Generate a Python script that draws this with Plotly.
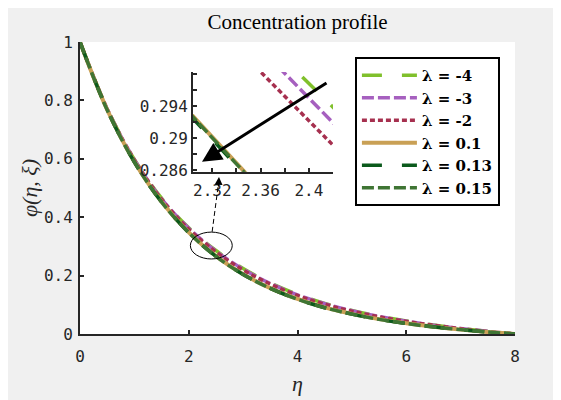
import plotly.graph_objects as go

# ---------------- data ----------------
eta = [0.0, 0.5, 1.0, 1.5, 2.0, 2.5, 3.0, 3.5, 4.0, 4.5, 5.0, 5.5, 6.0, 6.5, 7.0, 7.5, 8.0]
labels = ["λ = -4", "λ = -3", "λ = -2", "λ = 0.1", "λ = 0.13", "λ = 0.15"]
phi_m4 = [1.000, 0.772, 0.598, 0.465, 0.364, 0.286, 0.224, 0.175, 0.136, 0.105, 0.081, 0.061, 0.045, 0.031, 0.019, 0.009, 0.000]
phi_m3 = [1.000, 0.771, 0.597, 0.463, 0.362, 0.284, 0.222, 0.173, 0.134, 0.104, 0.080, 0.060, 0.044, 0.030, 0.019, 0.009, 0.000]
phi_m2 = [1.000, 0.770, 0.595, 0.461, 0.359, 0.281, 0.219, 0.171, 0.132, 0.102, 0.078, 0.059, 0.043, 0.030, 0.018, 0.008, 0.000]
phi_p10 = [1.000, 0.768, 0.590, 0.453, 0.348, 0.267, 0.205, 0.157, 0.120, 0.091, 0.069, 0.051, 0.037, 0.025, 0.015, 0.007, 0.000]
phi_p13 = [1.000, 0.768, 0.589, 0.452, 0.347, 0.266, 0.204, 0.156, 0.119, 0.090, 0.068, 0.050, 0.036, 0.025, 0.015, 0.007, 0.000]
phi_p15 = [1.000, 0.767, 0.589, 0.452, 0.347, 0.266, 0.204, 0.156, 0.119, 0.090, 0.068, 0.050, 0.036, 0.024, 0.015, 0.007, 0.000]

# zoomed (inset) values
eta_zoom = [2.30, 2.43]
zoom_m4 = [0.3117, 0.2924]
zoom_m3 = [0.3105, 0.2904]
zoom_m2 = [0.3075, 0.2876]
zoom_p10 = [0.2934, 0.2722]
zoom_p13 = [0.2931, 0.2719]
zoom_p15 = [0.2933, 0.2721]

inset_xticks = [2.32, 2.34, 2.36, 2.38, 2.40]
inset_xtext = ["2.32", "", "2.36", "", "2.4"]
inset_yticks = [0.286, 0.288, 0.290, 0.292, 0.294, 0.296, 0.298]
inset_ytext = ["0.286", "", "0.29", "", "0.294", "", ""]

main_series = [phi_m4, phi_m3, phi_m2, phi_p10, phi_p13, phi_p15]
zoom_series = [zoom_m4, zoom_m3, zoom_m2, zoom_p10, zoom_p13, zoom_p15]

colors = ["#80c02c", "#a660bf", "#a6304f", "#c9a055", "#0b5a1c", "#3f7534"]
dashes = ["20px,20px", "12px,4px", "5px,3px", "solid", "20px,20px", "12px,4px"]
widths = [3.5, 3.5, 3.5, 4, 3.5, 3.5]

AX = "#262626"
fig = go.Figure()

for lab, ys, c, d, w in zip(labels, main_series, colors, dashes, widths):
    fig.add_trace(go.Scatter(x=eta, y=ys, mode="lines", name=lab,
                             line=dict(color=c, dash=d, width=w, shape="spline"),
                             xaxis="x", yaxis="y"))

for lab, ys, c, d, w in zip(labels, zoom_series, colors, dashes, widths):
    fig.add_trace(go.Scatter(x=eta_zoom, y=ys, mode="lines", name=lab, showlegend=False,
                             line=dict(color=c, dash=d, width=w),
                             xaxis="x2", yaxis="y2"))

tickfont = dict(family="DejaVu Sans Mono", size=16, color=AX)

fig.update_layout(
    width=561, height=400,
    paper_bgcolor="#f0f0f0", plot_bgcolor="white",
    margin=dict(l=72, r=54, t=34, b=73.5),
    title=dict(text="Concentration profile", x=0.5, xref="paper", xanchor="center",
               y=0.965, yanchor="middle",
               font=dict(family="Liberation Serif", size=21, color="black")),
    xaxis=dict(domain=[0, 1], range=[0, 8], tickvals=[0, 2, 4, 6, 8], ticks="inside", ticklen=4,
               tickwidth=2, tickcolor=AX, showline=True, linewidth=2, linecolor=AX, showgrid=False,
               zeroline=False, tickfont=tickfont, mirror=False, ticklabelstandoff=7,
               title=dict(text="η", standoff=10,
                          font=dict(family="Liberation Serif", size=22, style="italic", color=AX))),
    yaxis=dict(domain=[0, 1], range=[0, 1], tickvals=[0, 0.2, 0.4, 0.6, 0.8, 1],
               ticktext=["0", "0.2", "0.4", "0.6", "0.8", "1"], ticks="inside", ticklen=4,
               tickwidth=2, tickcolor=AX, showline=True, linewidth=2, linecolor=AX, showgrid=False,
               zeroline=False, tickfont=tickfont, ticklabelstandoff=2,
               title=dict(text="φ(η, ξ)", standoff=0,
                          font=dict(family="Liberation Serif", size=22, style="italic", color=AX))),
    xaxis2=dict(domain=[0.2598, 0.5816], anchor="y2", range=[2.304, 2.42], tickvals=inset_xticks,
                ticktext=inset_xtext, ticks="inside", ticklen=4, tickwidth=2, tickcolor=AX,
                showline=True, linewidth=2, linecolor=AX, showgrid=False, zeroline=False,
                tickfont=tickfont, ticklabelstandoff=3),
    yaxis2=dict(domain=[0.5556, 0.8974], anchor="x2", range=[0.2858, 0.2983], tickvals=inset_yticks,
                ticktext=inset_ytext, ticks="inside", ticklen=4, tickwidth=2, tickcolor=AX,
                showline=True, linewidth=2, linecolor=AX, showgrid=False, zeroline=False,
                tickfont=tickfont),
    legend=dict(x=0.632, y=0.949, xanchor="left", yanchor="top", bgcolor="white",
                bordercolor="black", borderwidth=2, itemwidth=55,
                font=dict(family="DejaVu Serif", size=15, color="black", weight="bold")),
    showlegend=True,
)

# ellipse marking the zoomed region
fig.add_shape(type="circle", xref="x", yref="y", x0=2.03, x1=2.80, y0=0.257, y1=0.349,
              line=dict(color="black", width=1))
# dashed connector from ellipse to inset
fig.add_shape(type="line", xref="x", yref="y", x0=2.43, y0=0.350, x1=2.55, y1=0.52,
              line=dict(color="black", width=1, dash="5px,3px"))
fig.add_annotation(x=2.556, y=0.538, ax=2.545, ay=0.50, xref="x", yref="y", axref="x", ayref="y",
                   showarrow=True, arrowhead=2, arrowsize=1.6, arrowwidth=1, arrowcolor="black", text="")
# big arrow pointing into the inset
fig.add_annotation(x=2.244, y=0.590, ax=4.561, ay=0.863, xref="x", yref="y", axref="x", ayref="y",
                   showarrow=True, arrowhead=2, arrowsize=1.3, arrowwidth=3, arrowcolor="black", text="")

fig.write_html("out.html")
